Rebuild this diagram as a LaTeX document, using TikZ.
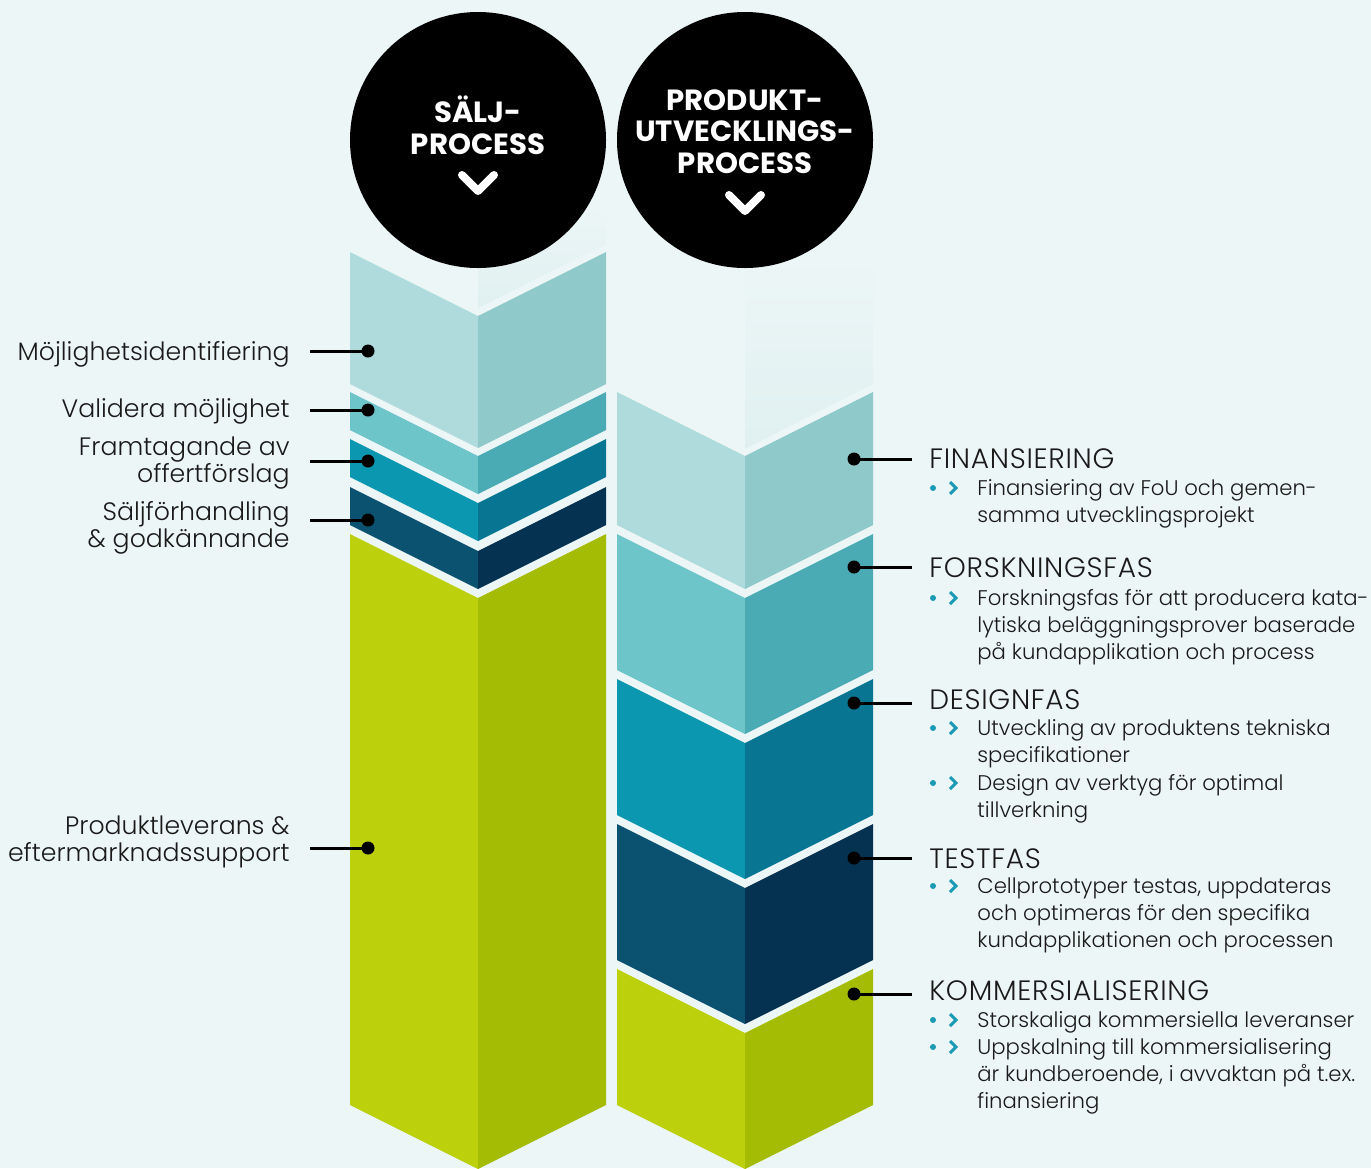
\documentclass[tikz,border=0pt]{standalone}
\usepackage{fontspec}
\setmainfont{Poppins}[UprightFont=* Light]
\newfontfamily\headfont{Poppins}[UprightFont=* Bold]
\newfontfamily\phasefont{Poppins}[UprightFont=* Light, LetterSpace=2.5]
\usetikzlibrary{positioning,calc}

\definecolor{bgcol}{HTML}{EDF6F7}
\definecolor{ghostcol}{HTML}{E0F0F0}
\definecolor{paleL}{HTML}{AFDBDC}
\definecolor{paleR}{HTML}{8FC9C9}
\definecolor{aquaL}{HTML}{6DC4C9}
\definecolor{aquaR}{HTML}{4AABB4}
\definecolor{tealL}{HTML}{0B97B0}
\definecolor{tealR}{HTML}{087592}
\definecolor{navyL}{HTML}{0B5270}
\definecolor{navyR}{HTML}{053250}
\definecolor{limeL}{HTML}{BDD00C}
\definecolor{limeR}{HTML}{A5BC04}
\definecolor{inkcol}{HTML}{1A1A1A}
\definecolor{bulletcol}{HTML}{1A9AB5}

\tikzset{
  dot/.style={circle, fill=black, inner sep=0pt, minimum size=6.5pt},
  conn/.style={line width=1.5pt, black},
  leftlabel/.style={anchor=base east, align=right, inner sep=0pt, text=inkcol, font=\fontsize{12.6}{13.5}\selectfont},
  phase/.style={anchor=base west, inner sep=0pt, text=inkcol, font=\phasefont\fontsize{14}{14}\selectfont},
  item/.style={anchor=base west, align=left, inner sep=0pt, text=inkcol, font=\fontsize{10.6}{13.5}\selectfont},
  headtext/.style={anchor=base, align=center, inner sep=0pt, text=white, font=\headfont\fontsize{14.6}{15.75}\selectfont},
  headcircle/.style={circle, fill=black, inner sep=0pt, minimum size=128pt},
  caret/.style={white, line width=4pt, line cap=round, line join=round},
  bulletcaret/.style={bulletcol, line width=1.5pt},
}

\begin{document}
\begin{tikzpicture}[x=0.5pt, y=-0.5pt]
    \fill[bgcol] (0,0) rectangle (1371,1168);
    \useasboundingbox (0,0) rectangle (1371,1168);

    % faded blocks above the columns
    \shade[top color=bgcol, bottom color=ghostcol] (478,200) -- (606,200) -- (606,244) -- (478,308) -- cycle;
    \shade[top color=bgcol, bottom color=ghostcol] (745,250) -- (873,250) -- (873,384) -- (745,449) -- cycle;

    % chevron blocks: left x / top / bottom / colours
    \foreach \xl/\t/\b/\cl/\cr in {350/252/384/paleL/paleR, 350/392/430/aquaL/aquaR,
        350/439/477/tealL/tealR, 350/487/525/navyL/navyR, 350/534/1105/limeL/limeR,
        617/392/525/paleL/paleR, 617/534/670/aquaL/aquaR, 617/679/815/tealL/tealR,
        617/824/960/navyL/navyR, 617/969/1105/limeL/limeR}
    {
        \fill[\cl] (\xl,\t) -- ({\xl+128},{\t+64}) -- ({\xl+128},{\b+64}) -- (\xl,\b) -- cycle;
        \fill[\cr] ({\xl+128},{\t+64}) -- ({\xl+256},\t) -- ({\xl+256},\b) -- ({\xl+128},{\b+64}) -- cycle;
    }

    % heads
    \node[headcircle] (salescirc) at (478,140) {};
    \node[headcircle] (devcirc) at (745,140) {};
    \node[headtext] (salestxt) at (478,154) {SÄLJ-\\PROCESS};
    \node[headtext] (devtxt) at (745,173) {PRODUKT-\\UTVECKLINGS-\\PROCESS};
    \draw[caret] (462,175) -- (478,191) -- (494,175);
    \draw[caret] (729,195) -- (745,211) -- (761,195);

    % sales steps (multi-line nodes sit on their last line)
    \node[leftlabel] (lbl1) at (290,360) {Möjlighetsidentifiering};
    \node[leftlabel] (lbl2) at (290,417) {Validera möjlighet};
    \node[leftlabel] (lbl3) at (290,482) {Framtagande av\\offertförslag};
    \node[leftlabel] (lbl4) at (290,547) {Säljförhandling\\\& godkännande};
    \node[leftlabel] (lbl5) at (290,861) {Produktleverans \&\\eftermarknadssupport};

    \foreach \n/\y in {1/351, 2/410, 3/461, 4/520, 5/848}
    {
        \coordinate (ls\n) at (310,\y);
        \node[dot] (ld\n) at (368,\y) {};
        \draw[conn] (ls\n) -- (ld\n.center);
    }

    % development phases
    \node[phase] (fin) at (929,468) {FINANSIERING};
    \node[phase] (forsk) at (929,577) {FORSKNINGSFAS};
    \node[phase] (design) at (929,709) {DESIGNFAS};
    \node[phase] (test) at (929,868) {TESTFAS};
    \node[phase] (komm) at (929,1000) {KOMMERSIALISERING};

    \foreach \n/\y in {1/459, 2/567, 3/703, 4/858, 5/994}
    {
        \node[dot] (rd\n) at (854,\y) {};
        \coordinate (re\n) at (912,\y);
        \draw[conn] (rd\n.center) -- (re\n);
    }

    \node[item] (fin1) at (977,522) {Finansiering av FoU och gemen-\\samma utvecklingsprojekt};
    \node[item] (forsk1) at (977,659) {Forskningsfas för att producera kata-\\lytiska beläggningsprover baserade\\på kundapplikation och process};
    \node[item] (design1) at (977,762) {Utveckling av produktens tekniska\\specifikationer};
    \node[item] (design2) at (977,817) {Design av verktyg för optimal\\tillverkning};
    \node[item] (test1) at (977,947) {Cellprototyper testas, uppdateras\\och optimeras för den specifika\\kundapplikationen och processen};
    \node[item] (komm1) at (977,1027) {Storskaliga kommersiella leveranser};
    \node[item] (komm2) at (977,1108) {Uppskalning till kommersialisering\\är kundberoende, i avvaktan på t.ex.\\finansiering};

    % bullets
    \foreach \y in {488, 598, 728, 783, 886, 1020, 1047}
    {
        \fill[bulletcol] (933,\y) circle[radius=3];
        \draw[bulletcaret] (950,{\y-6}) -- (956,\y) -- (950,{\y+6});
    }
\end{tikzpicture}
\end{document}
